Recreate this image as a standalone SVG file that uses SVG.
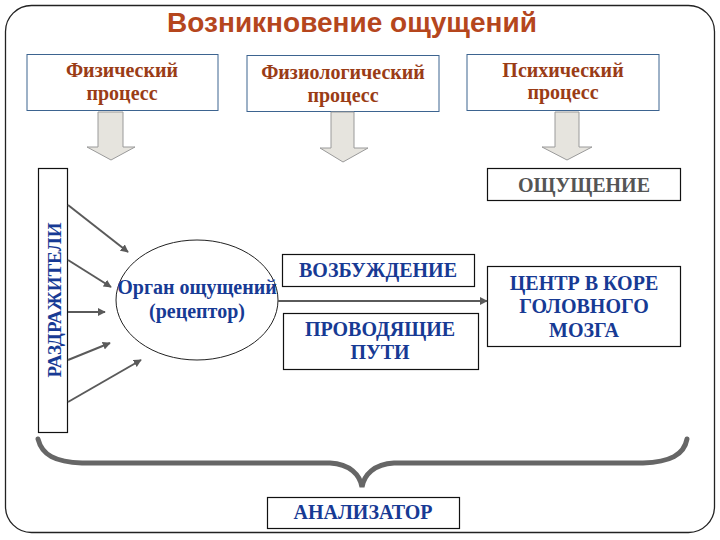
<svg xmlns="http://www.w3.org/2000/svg" width="720" height="540" viewBox="0 0 720 540">
<style>
  .frame{fill:#fff;stroke:#222;stroke-width:1.3}
  .title{font-family:"Liberation Sans",Arial,sans-serif;font-weight:bold;font-size:28px;fill:#b5461d;text-anchor:middle}
  .pbox{fill:#fff;stroke:#3d6490;stroke-width:1}
  .ptext{font-family:"Liberation Serif","DejaVu Serif",serif;font-weight:bold;font-size:20px;fill:#9a3c16;text-anchor:middle}
  .box{fill:#fff;stroke:#111;stroke-width:1.2}
  .btext{font-family:"Liberation Serif","DejaVu Serif",serif;font-weight:bold;font-size:20px;fill:#173a94;text-anchor:middle}
  .gtext{font-family:"Liberation Serif","DejaVu Serif",serif;font-weight:bold;font-size:20px;fill:#555;text-anchor:middle}
  .block{fill:#e6e4de;stroke:#9a9a9a;stroke-width:1}
  .conn{stroke:#5a5a5a;stroke-width:2;fill:none;marker-end:url(#ah)}
  .brace{stroke:#666;stroke-width:5;fill:none;stroke-linecap:round}
</style>
<defs>
  <marker id="ah" viewBox="0 0 10 10" refX="9" refY="5" markerWidth="4" markerHeight="4" orient="auto" markerUnits="strokeWidth">
    <path d="M0,0 L10,5 L0,10 z" fill="#5a5a5a"/>
  </marker>
</defs>
<rect class="frame" x="5.5" y="5.5" width="709" height="527" rx="26" ry="26"/>
<text class="title" x="352" y="32">Возникновение ощущений</text>

<g id="phys">
  <rect class="pbox" x="27" y="54.5" width="191" height="56"/>
  <text class="ptext" x="122" y="77">Физический</text>
  <text class="ptext" x="122" y="100">процесс</text>
</g>
<g id="physio">
  <rect class="pbox" x="247" y="55.5" width="192" height="56"/>
  <text class="ptext" x="343" y="79">Физиологический</text>
  <text class="ptext" x="343" y="102">процесс</text>
</g>
<g id="psych">
  <rect class="pbox" x="467" y="54.5" width="192" height="56"/>
  <text class="ptext" x="563" y="77">Психический</text>
  <text class="ptext" x="563" y="99">процесс</text>
</g>

<g id="block-arrows">
  <path class="block" d="M98,112 H123 V147 H135 L111,160 L87,147 H98 Z"/>
  <path class="block" d="M331,112 H354 V148 H368 L343,162 L320,148 H331 Z"/>
  <path class="block" d="M555,112 H579 V147 H592 L567,160 L542,147 H555 Z"/>
</g>

<g id="sensation">
  <rect class="box" x="487.5" y="168.5" width="193" height="32"/>
  <text class="gtext" x="584" y="192">ОЩУЩЕНИЕ</text>
</g>

<g id="stimuli">
  <rect class="box" x="38.5" y="168.5" width="29" height="264"/>
  <text class="btext" style="font-size:19px" transform="translate(61,300) rotate(-90)">РАЗДРАЖИТЕЛИ</text>
</g>

<g id="receptor">
  <ellipse cx="197" cy="300" rx="81" ry="60" fill="#fff" stroke="#222" stroke-width="1"/>
  <text class="btext" x="197" y="294">Орган ощущений</text>
  <text class="btext" x="197" y="318">(рецептор)</text>
</g>

<g id="excitation">
  <rect class="box" x="282.5" y="254.5" width="192" height="32"/>
  <text class="btext" x="378" y="277">ВОЗБУЖДЕНИЕ</text>
</g>
<g id="pathways">
  <rect class="box" x="283.5" y="313.5" width="195" height="56"/>
  <text class="btext" x="380" y="336">ПРОВОДЯЩИЕ</text>
  <text class="btext" x="380" y="359">ПУТИ</text>
</g>

<g id="cortex">
  <rect class="box" x="487.5" y="266.5" width="193" height="80"/>
  <text class="btext" x="584" y="290">ЦЕНТР В КОРЕ</text>
  <text class="btext" x="584" y="313">ГОЛОВНОГО</text>
  <text class="btext" x="584" y="337">МОЗГА</text>
</g>

<g id="analyzer">
  <rect class="box" x="267.5" y="497.5" width="192" height="31"/>
  <text class="btext" x="363" y="519">АНАЛИЗАТОР</text>
</g>

<g id="connectors">
  <line class="conn" x1="68" y1="205" x2="128" y2="252"/>
  <line class="conn" x1="68" y1="260" x2="111" y2="287"/>
  <line class="conn" x1="68" y1="312" x2="105" y2="312"/>
  <line class="conn" x1="68" y1="360" x2="110" y2="343"/>
  <line class="conn" x1="68" y1="402" x2="141" y2="360"/>
  <line class="conn" x1="278" y1="301" x2="487" y2="301"/>
  <path class="brace" d="M38,439 C42,455 55,462 82,463 H330 C350,464 360,475 362,487 C364,475 374,464 394,463 H643 C670,462 684,455 687,439"/>
</g>
</svg>
